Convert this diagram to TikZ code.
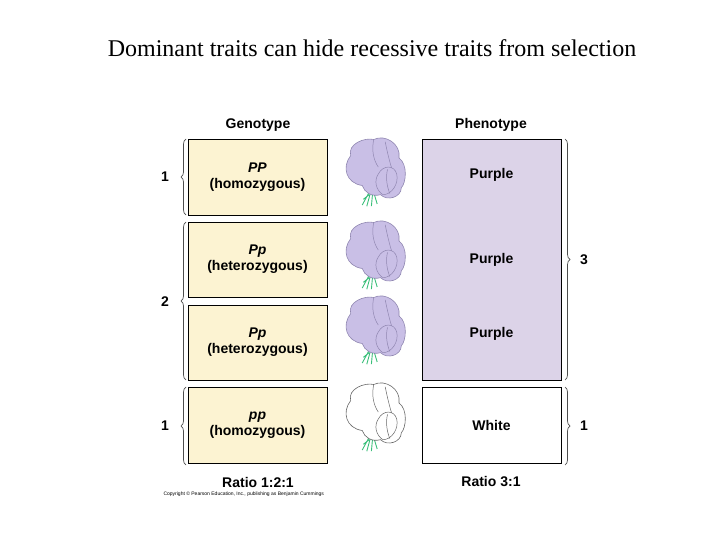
\documentclass[tikz,border=0pt]{standalone}
\usepackage{fontspec}
\setmainfont{Liberation Sans}
\newfontfamily\serifx{Liberation Serif}
\usetikzlibrary{decorations.pathreplacing}
\definecolor{geno}{HTML}{FCF3D2}
\definecolor{pheno}{HTML}{DCD3E8}
\definecolor{petal}{HTML}{C9BFE6}
\definecolor{petalline}{HTML}{8F86B0}
\definecolor{stem}{HTML}{3BBF7A}
\begin{document}
\begin{tikzpicture}[x=1pt,y=-1pt,
  box/.style={draw=black,line width=0.8pt,minimum width=139pt,inner sep=0pt,align=center,font=\bfseries\fontsize{14}{16}\selectfont},
  lbl/.style={font=\bfseries\fontsize{14}{16}\selectfont},
  brc/.style={draw=black!70,line width=0.7pt,decorate,decoration={brace,amplitude=5pt}},
  num/.style={font=\bfseries\fontsize{14}{16}\selectfont}]
\useasboundingbox (0,0) rectangle (720,540);
\node[font=\serifx\fontsize{24}{27}\selectfont] (title) at (372,48) {Dominant traits can hide recessive traits from selection};
\node[lbl] (gh) at (258,125) {Genotype};
\node[lbl] (ph) at (491,125) {Phenotype};
% genotype boxes
\node[box,fill=geno,minimum height=76pt] (g1) at (257.5,177) {\textit{PP}\\(homozygous)};
\node[box,fill=geno,minimum height=75pt] (g2) at (257.5,259.5) {\textit{Pp}\\(heterozygous)};
\node[box,fill=geno,minimum height=75pt] (g3) at (257.5,342.5) {\textit{Pp}\\(heterozygous)};
\node[box,fill=geno,minimum height=76pt] (g4) at (257.5,425) {\textit{pp}\\(homozygous)};
% phenotype
\node[box,fill=pheno,minimum height=241pt] (p1) at (491.5,259.5) {};
\node[lbl] (pu1) at (491.5,175) {Purple};
\node[lbl] (pu2) at (491.5,260) {Purple};
\node[lbl] (pu3) at (491.5,334) {Purple};
\node[box,fill=white,minimum height=76pt] (p2) at (491.5,425) {White};
% braces
\draw[brc] (186,215) -- (186,139);
\draw[brc] (186,380) -- (186,222);
\draw[brc] (186,465) -- (186,387);
\draw[brc] (565,139) -- (565,380);
\draw[brc] (565,387) -- (565,465);
\node[num] (n1) at (165,177) {1};
\node[num] (n2) at (165,302) {2};
\node[num] (n3) at (165,426) {1};
\node[num] (n4) at (584,260) {3};
\node[num] (n5) at (584,426) {1};
% flowers
\foreach \cy/\fc/\lc in {174/petal/petalline,257/petal/petalline,332/petal/petalline,419/white/black!60}{
  \begin{scope}[shift={(376,\cy)},scale=1.15]
    \draw[stem,line width=0.9pt] (-6,16) -- (-12,27) (-5,17) -- (-8,28) (-3,17) -- (-4,28) (-2,16) -- (1,26) (-6,18) -- (-11,22);
    \draw[\lc,fill=\fc,line width=0.6pt] (-22,-16) .. controls (-25,-26) and (-10,-32) .. (-2,-30)
      .. controls (8,-35) and (22,-26) .. (20,-14)
      .. controls (28,-8) and (26,8) .. (22,12)
      .. controls (22,20) and (10,24) .. (4,18)
      .. controls (-4,20) and (-10,16) .. (-12,10)
      .. controls (-26,8) and (-30,-6) .. (-22,-16) -- cycle;
    \draw[\lc,line width=0.5pt] (-2,-30) .. controls (-4,-20) and (-2,-12) .. (2,-6);
    \draw[\lc,line width=0.5pt] (8,-28) .. controls (10,-18) and (12,-10) .. (14,-4);
    \draw[\lc,line width=0.5pt,fill=\fc] (2,0) .. controls (6,-8) and (16,-8) .. (18,0) .. controls (20,8) and (14,18) .. (6,18) .. controls (0,14) and (-2,6) .. (2,0);
    \draw[\lc,line width=0.5pt] (10,-4) .. controls (8,4) and (10,12) .. (12,17);
  \end{scope}}
\node[lbl] (r1) at (258,482) {Ratio 1:2:1};
\node[lbl] (r2) at (491,482) {Ratio 3:1};
\node[font=\fontsize{5}{6}\selectfont,anchor=west] (cp) at (160,494) {Copyright \textcopyright\ Pearson Education, Inc., publishing as Benjamin Cummings};
\end{tikzpicture}
\end{document}
